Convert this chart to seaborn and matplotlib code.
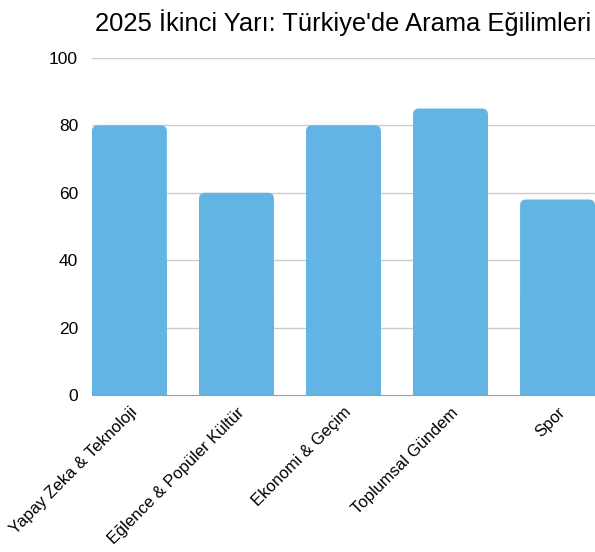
import pandas as pd
import seaborn as sns
from matplotlib import pyplot as plt
from matplotlib.patches import FancyBboxPatch, Rectangle

# Veriler
kategoriler = ["Yapay Zeka & Teknoloji", "Eğlence & Popüler Kültür", "Ekonomi & Geçim",
               "Toplumsal Gündem", "Spor"]
degerler = [80, 60, 80, 85, 58]
yticks = [0, 20, 40, 60, 80, 100]

df = pd.DataFrame({"kategori": kategoriler, "deger": degerler})

sns.set_style("white")
plt.rcParams['font.family'] = ['Liberation Sans', 'DejaVu Sans']

fig = plt.figure(figsize=(5.95, 5.52), dpi=100)
ax = fig.add_axes([0.1546, 0.2844, 0.8454, 0.6106])

sns.barplot(data=df, x="kategori", y="deger", color="#62b4e4", width=0.7,
            saturation=1, ax=ax, zorder=3)

ax.set_xlim(-0.35, 4.35)
ax.set_ylim(0, 100)
ax.set_yticks(yticks)
ax.grid(False)
# Gitterlinien hinter den Balken
for t in yticks[1:]:
    ax.axhline(t, color="#cccccc", linewidth=1, zorder=1)
for s in ["left", "right", "top"]:
    ax.spines[s].set_visible(False)
ax.spines["bottom"].set_color("#9e9e9e")
ax.spines["bottom"].set_zorder(5)
ax.tick_params(length=0, colors="black")
ax.tick_params(axis="y", pad=10, labelsize=12.5)
ax.tick_params(axis="x", pad=7, labelsize=11.9)
plt.setp(ax.get_xticklabels(), rotation=45, ha="right", rotation_mode="anchor")
ax.set_xlabel("")
ax.set_ylabel("")

# Köşeleri yuvarlatılmış çubuklar
fig.canvas.draw()
px_x = ax.transData.transform((1, 0))[0] - ax.transData.transform((0, 0))[0]
px_y = ax.transData.transform((0, 1))[1] - ax.transData.transform((0, 0))[1]
r = 6 / px_x
for p in list(ax.patches):
    x, w, h = p.get_x(), p.get_width(), p.get_height()
    p.set_visible(False)
    ax.add_patch(FancyBboxPatch((x, 0), w, h,
                                boxstyle="round,pad=0,rounding_size=%f" % r,
                                mutation_aspect=px_x / px_y,
                                facecolor="#62b4e4", edgecolor="none", zorder=3))
    ax.add_patch(Rectangle((x, 0), w, h / 2, facecolor="#62b4e4",
                           edgecolor="none", zorder=3))

fig.suptitle("2025 İkinci Yarı: Türkiye'de Arama Eğilimleri", x=0.577, y=0.983,
             fontsize=18.4, va="top", color="black")

plt.savefig("out.png", dpi=100)
